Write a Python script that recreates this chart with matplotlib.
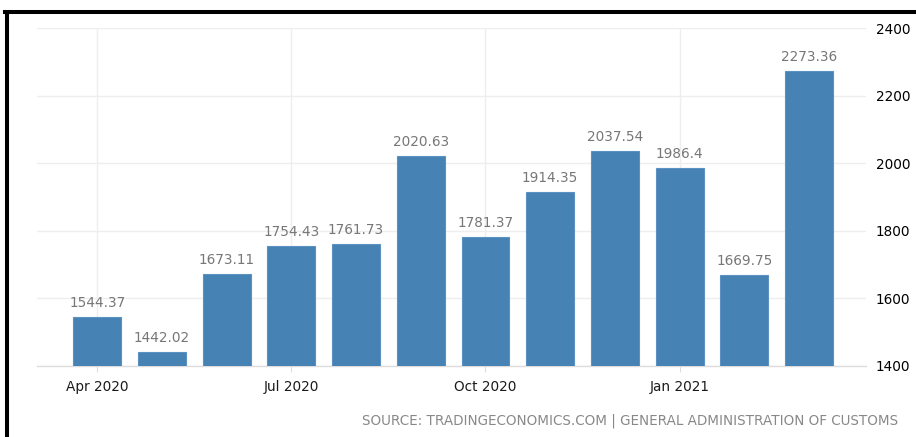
import matplotlib.pyplot as plt
from matplotlib.lines import Line2D

months = ["Apr 2020", "May 2020", "Jun 2020", "Jul 2020", "Aug 2020", "Sep 2020",
          "Oct 2020", "Nov 2020", "Dec 2020", "Jan 2021", "Feb 2021", "Mar 2021"]
values = [1544.37, 1442.02, 1673.11, 1754.43, 1761.73, 2020.63,
          1781.37, 1914.35, 2037.54, 1986.4, 1669.75, 2273.36]
labels = ["1544.37", "1442.02", "1673.11", "1754.43", "1761.73", "2020.63",
          "1781.37", "1914.35", "2037.54", "1986.4", "1669.75", "2273.36"]
tick_idx = [0, 3, 6, 9]
yticks = [1400, 1600, 1800, 2000, 2200, 2400]
source = "SOURCE: TRADINGECONOMICS.COM | GENERAL ADMINISTRATION OF CUSTOMS"

plt.rcParams['font.family'] = ['DejaVu Sans']

fig = plt.figure(figsize=(9.16, 4.37), dpi=100)
ax = fig.add_axes([0.0404, 0.1625, 0.905, 0.7734])

x = list(range(len(values)))
bottom = yticks[0]
ax.bar(x, [v - bottom for v in values], bottom=bottom, width=0.74,
       color='#4682b4', edgecolor='#5b92c2', linewidth=0.8, zorder=3)

for xi, v, lab in zip(x, values, labels):
    ax.annotate(lab, (xi, v), xytext=(0, 5), textcoords='offset points',
                ha='center', va='bottom', fontsize=9.8, color='#777777')

ax.set_xlim(-0.93, 11.88)
ax.set_ylim(yticks[0], yticks[-1])

ax.set_xticks(tick_idx)
ax.set_xticklabels([months[i] for i in tick_idx], fontsize=9.8, color='#1a1a1a')
ax.set_yticks(yticks)
ax.set_yticklabels([str(t) for t in yticks], fontsize=9.8, color='#000000')
ax.yaxis.tick_right()
ax.tick_params(axis='y', length=0, pad=7)
ax.tick_params(axis='x', length=4, color='#dddddd', pad=6)

ax.grid(True, color='#eeeeee', linewidth=1, zorder=0)
for s in ['top', 'left', 'right']:
    ax.spines[s].set_visible(False)
ax.spines['bottom'].set_color('#dddddd')
ax.spines['bottom'].set_linewidth(1)

fig.text(898 / 916, 1 - 421 / 437, source, ha='right', va='center',
         fontsize=9.75, color='#888888')

# black frame (left and top)
fig.add_artist(Line2D([7 / 916, 7 / 916], [0, 1 - 11.5 / 437], color='black',
                      linewidth=2.9, transform=fig.transFigure))
fig.add_artist(Line2D([5 / 916, 1], [1 - 11.5 / 437, 1 - 11.5 / 437], color='black',
                      linewidth=2.9, transform=fig.transFigure))

fig.savefig('out.png', dpi=100)
